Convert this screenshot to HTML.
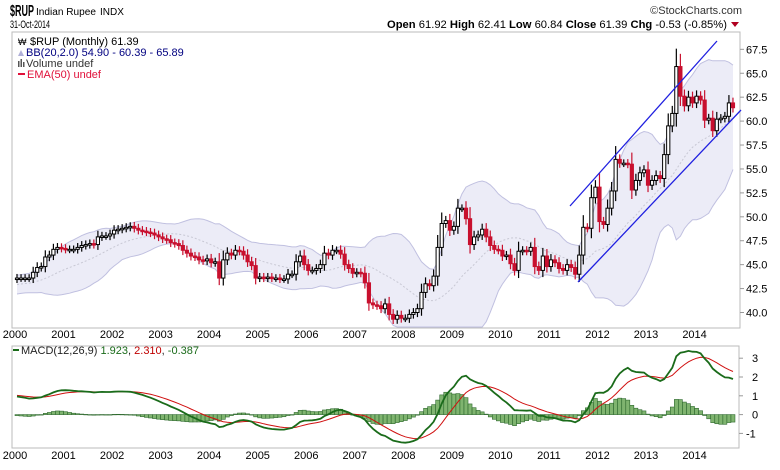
<!DOCTYPE html>
<html><head><meta charset="utf-8"><style>
body{margin:0;background:#fff;width:780px;height:465px;overflow:hidden;font-family:"Liberation Sans",sans-serif}
svg text{font-family:"Liberation Sans",sans-serif}
</style></head><body>
<svg id="c" width="780" height="465">
<text x="10" y="16" font-size="16" font-weight="bold" textLength="24" lengthAdjust="spacingAndGlyphs">$RUP</text>
<text x="36" y="15" font-size="10" textLength="60" lengthAdjust="spacingAndGlyphs">Indian Rupee</text>
<text x="100" y="15" font-size="10">INDX</text>
<text x="10" y="28" font-size="11" textLength="40" lengthAdjust="spacingAndGlyphs">31-Oct-2014</text>
<text x="742" y="14" font-size="11" text-anchor="end" fill="#333">©StockCharts.com</text>
<text x="727" y="28" font-size="11" text-anchor="end" textLength="340" lengthAdjust="spacingAndGlyphs"><tspan font-weight="bold">Open</tspan> 61.92 <tspan font-weight="bold">High</tspan> 62.41 <tspan font-weight="bold">Low</tspan> 60.84 <tspan font-weight="bold">Close</tspan> 61.39 <tspan font-weight="bold">Chg</tspan> -0.53 (-0.85%)</text>
<path d="M731 22 L739 22 L735 27 Z" fill="#b00020"/>
<rect x="12" y="32" width="728" height="296" fill="#fff" stroke="#bbb"/>
<rect x="12" y="346" width="727" height="102" fill="#fff" stroke="#bbb"/>
<g id="price"></g><g id="macd"></g><g id="axes"></g>
<line x1="570" y1="206" x2="717" y2="41" stroke="#2020e0" stroke-width="1.3"/>
<line x1="578" y1="282" x2="741" y2="110" stroke="#2020e0" stroke-width="1.3"/>
<g font-size="11">
<text x="30" y="45">$RUP (Monthly) 61.39</text>
<text x="18" y="45" font-size="9">₩</text>
<path d="M18 56 L21 50 L24 56 Z" fill="#b0b0d8"/>
<text x="26" y="56" fill="#000080">BB(20,2.0) 54.90 - 60.39 - 65.89</text>
<rect x="18" y="61" width="1.5" height="6" fill="#555"/><rect x="20.5" y="59" width="1.5" height="8" fill="#555"/><rect x="23" y="62" width="1.5" height="5" fill="#555"/>
<text x="26" y="67" fill="#333">Volume undef</text>
<rect x="18" y="73" width="7" height="2" fill="#e0103a"/>
<text x="27" y="78" fill="#e0103a">EMA(50) undef</text>
</g>
<g font-size="11">
<rect x="13" y="349" width="6" height="2" fill="#1a6b1a"/>
<text x="21" y="354" fill="#222">MACD(12,26,9) <tspan fill="#1a6b1a">1.923</tspan>, <tspan fill="#c00000">2.310</tspan>, <tspan fill="#1a6b1a">-0.387</tspan></text>
</g>
</svg>
<script>
const preCloses=[38.5,38.9,39.0,39.4,40.2,42.3,42.5,42.8,42.5,42.3,42.4,42.5,42.5,42.4,42.5,42.8,43.0,43.3,43.3,43.6,43.6,43.5,43.4,43.5];
const closes=[
43.6,43.6,43.6,43.6,44.2,44.7,44.8,45.8,46.0,46.6,46.8,46.7,
46.6,46.6,46.6,46.8,47.0,47.1,47.2,47.1,47.9,48.0,48.0,48.2,
48.6,48.7,48.8,48.9,49.0,48.8,48.6,48.5,48.4,48.3,48.1,47.9,
47.7,47.6,47.3,47.2,47.0,46.5,46.2,45.9,45.8,45.5,45.4,45.6,
45.2,45.3,43.6,45.5,46.2,46.0,46.5,46.4,46.0,45.3,44.9,43.6,
43.7,43.6,43.7,43.6,43.6,43.5,43.5,44.0,44.0,45.3,45.9,45.0,
44.4,44.4,44.6,45.0,46.2,46.0,46.5,46.5,46.1,45.0,44.6,44.1,
44.2,44.1,43.1,41.0,40.8,40.7,40.4,40.9,39.8,39.3,39.7,39.4,
39.4,39.8,40.0,40.4,42.1,43.0,42.8,43.8,46.8,49.3,49.6,48.6,
49.0,50.9,50.9,49.8,47.1,47.9,48.1,48.7,47.9,47.0,46.6,46.5,
45.9,46.0,45.1,44.4,46.4,46.5,46.4,46.8,44.8,44.4,45.9,44.8,
45.5,45.2,44.6,44.4,45.0,44.7,44.0,46.0,48.9,48.8,52.0,53.1,
49.5,49.2,50.9,52.7,56.0,55.6,55.6,55.5,52.8,53.8,54.6,54.9,
53.3,53.8,54.3,54.0,56.5,59.5,60.8,65.7,62.6,61.6,62.5,61.9,
62.6,62.2,60.1,60.3,59.0,60.2,60.3,60.5,61.9,61.4];
const yearLabels=["2000","2001","2002","2003","2004","2005","2006","2007","2008","2009","2010","2011","2012","2013","2014"];
const priceTicks=[40,42.5,45,47.5,50,52.5,55,57.5,60,62.5,65,67.5];
const macdTicks=[-1,0,1,2,3];
const NS="http://www.w3.org/2000/svg";
const xM=i=>17+i*4.045;
const yP=p=>312.5-(p-40)*9.57;
const yM=v=>414.6-v*18.8;
function el(t,a,p){const e=document.createElementNS(NS,t);for(const k in a)e.setAttribute(k,a[k]);p.appendChild(e);return e;}
const all=preCloses.concat(closes),off=preCloses.length;
const up=[],mid=[],lo=[];
for(let i=0;i<closes.length;i++){const j=i+off;const w=all.slice(Math.max(0,j-19),j+1);const m=w.reduce((a,b)=>a+b,0)/w.length;const sd=Math.sqrt(w.reduce((a,b)=>a+(b-m)*(b-m),0)/w.length);mid.push(m);up.push(m+2*sd);lo.push(m-2*sd);}
const P=document.getElementById('price');
let d="M"+up.map((v,i)=>xM(i).toFixed(1)+","+yP(v).toFixed(1)).join("L")+"L"+lo.map((v,i)=>[i,v]).reverse().map(([i,v])=>xM(i).toFixed(1)+","+Math.min(327,yP(v)).toFixed(1)).join("L")+"Z";
const band=el('path',{d:d,fill:"#ececf7",stroke:"none"},P);


[up,lo].forEach((arr,k)=>{const l=el('path',{d:"M"+arr.map((v,i)=>xM(i).toFixed(1)+","+Math.min(327,yP(v)).toFixed(1)).join("L"),fill:"none",stroke:"#c0c0e0"},P);

});
const ml=el('path',{d:"M"+mid.map((v,i)=>xM(i).toFixed(1)+","+yP(v).toFixed(1)).join("L"),fill:"none",stroke:"#c8c8d4","stroke-dasharray":"2,2"},P);


closes.forEach((c,i)=>{const o=i?closes[i-1]:all[off-1];const hi=Math.max(o,c)+0.4+(Math.abs(c-o)*0.3),lw=Math.min(o,c)-0.4-(Math.abs(c-o)*0.2);
const x=xM(i),upc=c>=o,col=upc?"#000":"#c8102e";
const g=el('g',{},P);


el('line',{x1:x,x2:x,y1:yP(hi),y2:yP(lw),stroke:col,"stroke-width":1.2},g);
const t=yP(Math.max(o,c)),h=Math.max(1.5,yP(Math.min(o,c))-t);
el('rect',{x:x-1.6,y:t,width:3.2,height:h,fill:upc?"#fff":col,stroke:col,"stroke-width":1},g);});
function ema(arr,n){const k=2/(n+1);const r=[arr[0]];for(let i=1;i<arr.length;i++)r.push(arr[i]*k+r[i-1]*(1-k));return r;}
const e12=ema(all,12),e26=ema(all,26);const macd=all.map((v,i)=>e12[i]-e26[i]);const sig=ema(macd,9);
const M=document.getElementById('macd');
closes.forEach((_,i)=>{const j=i+off;const h=macd[j]-sig[j];const y0=yM(0),y1=yM(h);
const r=el('rect',{x:xM(i)-2,y:Math.min(y0,y1),width:4,height:Math.max(0.5,Math.abs(y1-y0)),fill:"#7fb46f",stroke:"#2f6a2f","stroke-width":0.6},M);

});
const sl=el('path',{d:"M"+closes.map((_,i)=>xM(i).toFixed(1)+","+yM(sig[i+off]).toFixed(1)).join("L"),fill:"none",stroke:"#d01010","stroke-width":1},M);


const mlin=el('path',{d:"M"+closes.map((_,i)=>xM(i).toFixed(1)+","+yM(macd[i+off]).toFixed(1)).join("L"),fill:"none",stroke:"#1a6b1a","stroke-width":1.8},M);


const A=document.getElementById('axes');
yearLabels.forEach((s,k)=>{[338,459].forEach(yy=>{const t=el('text',{x:xM(k*12)-2,y:yy,"font-size":11,"text-anchor":"middle"},A);t.textContent=s;

});});
priceTicks.forEach(p=>{const y=yP(p);el('line',{x1:740,x2:744,y1:y,y2:y,stroke:"#999"},A);const t=el('text',{x:746,y:y+4,"font-size":11},A);t.textContent=p.toFixed(1);

});
macdTicks.forEach(v=>{const y=yM(v);el('line',{x1:739,x2:743,y1:y,y2:y,stroke:"#999"},A);const t=el('text',{x:v<0?746:752,y:y+4,"font-size":11},A);t.textContent=v;

});
</script>
</body></html>
